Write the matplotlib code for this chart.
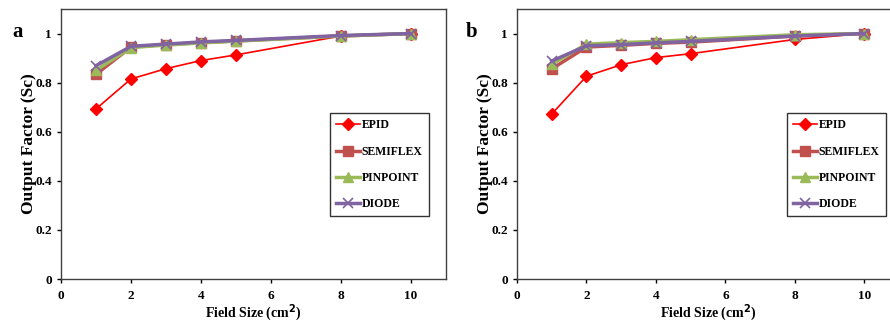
import matplotlib
matplotlib.use("Agg")
import matplotlib.pyplot as plt
from matplotlib.ticker import FuncFormatter

plt.rcParams["font.family"] = ["Liberation Serif", "DejaVu Serif"]
plt.rcParams["font.weight"] = "bold"

field_size = [1, 2, 3, 4, 5, 8, 10]
series_names = ["EPID", "SEMIFLEX", "PINPOINT", "DIODE"]

# panel a
epid_a = [0.693, 0.815, 0.857, 0.890, 0.913, 0.990, 1.0]
semiflex_a = [0.834, 0.945, 0.955, 0.963, 0.970, 0.990, 1.0]
pinpoint_a = [0.850, 0.943, 0.953, 0.962, 0.969, 0.990, 1.0]
diode_a = [0.869, 0.948, 0.957, 0.966, 0.972, 0.992, 1.0]

# panel b
epid_b = [0.672, 0.826, 0.873, 0.902, 0.918, 0.976, 1.0]
semiflex_b = [0.856, 0.945, 0.952, 0.960, 0.965, 0.990, 1.0]
pinpoint_b = [0.875, 0.957, 0.963, 0.968, 0.975, 0.995, 1.0]
diode_b = [0.888, 0.950, 0.955, 0.962, 0.968, 0.990, 1.0]

x_ticks = [0, 2, 4, 6, 8, 10]
y_ticks = [0, 0.2, 0.4, 0.6, 0.8, 1.0]

styles = [
    dict(color="#FF0000", marker="D", markersize=6, linewidth=1.2),
    dict(color="#C0504D", marker="s", markersize=7, linewidth=2.5),
    dict(color="#9BBB59", marker="^", markersize=7, linewidth=2.5),
    dict(color="#8064A2", marker="x", markersize=7, linewidth=2.5, markeredgewidth=1.2),
]

W, H = 890, 326
fig = plt.figure(figsize=(W / 100, H / 100), dpi=100)

panels = [
    ("a", [epid_a, semiflex_a, pinpoint_a, diode_a], 61, 385, 12, 330),
    ("b", [epid_b, semiflex_b, pinpoint_b, diode_b], 517, 382, 466, 787),
]

for letter, data, left_px, width_px, letter_px, leg_px in panels:
    ax = fig.add_axes([left_px / W, 1 - 279 / H, width_px / W, 270 / H])
    for name, vals, st in zip(series_names, data, styles):
        ax.plot(field_size, vals, label=name, **st)
    ax.set_xlim(0, 11)
    ax.set_ylim(0, 1.1)
    ax.set_xticks(x_ticks)
    ax.set_yticks(y_ticks)
    ax.yaxis.set_major_formatter(FuncFormatter(lambda v, p: "{:g}".format(v)))
    ax.tick_params(labelsize=9.5, length=3, width=1, direction="out")
    ax.tick_params(axis="x", pad=5)
    for lbl in ax.get_xticklabels() + ax.get_yticklabels():
        lbl.set_fontweight("bold")
    for sp in ax.spines.values():
        sp.set_linewidth(1.0)
        sp.set_color("#404040")
    ax.set_xlabel("Field Size (cm$^\\mathbf{2}$)", fontsize=10, fontweight="bold", labelpad=0)
    ax.set_ylabel("Output Factor (Sc)", fontsize=12.5, fontweight="bold", labelpad=-1)
    leg = ax.legend(
        loc="upper left",
        bbox_to_anchor=(leg_px / W, 1 - 113 / H),
        bbox_transform=fig.transFigure,
        borderaxespad=0,
        fancybox=False,
        frameon=True,
        edgecolor="black",
        prop={"weight": "bold", "size": 8.5},
        handlelength=2.0,
        handletextpad=0.15,
        labelspacing=1.2,
        borderpad=0.55,
    )
    leg.get_frame().set_linewidth(1.0)
    fig.text(letter_px / W, 1 - 32 / H, letter, fontsize=15, fontweight="bold", va="center")

fig.savefig("out.png", dpi=100)
